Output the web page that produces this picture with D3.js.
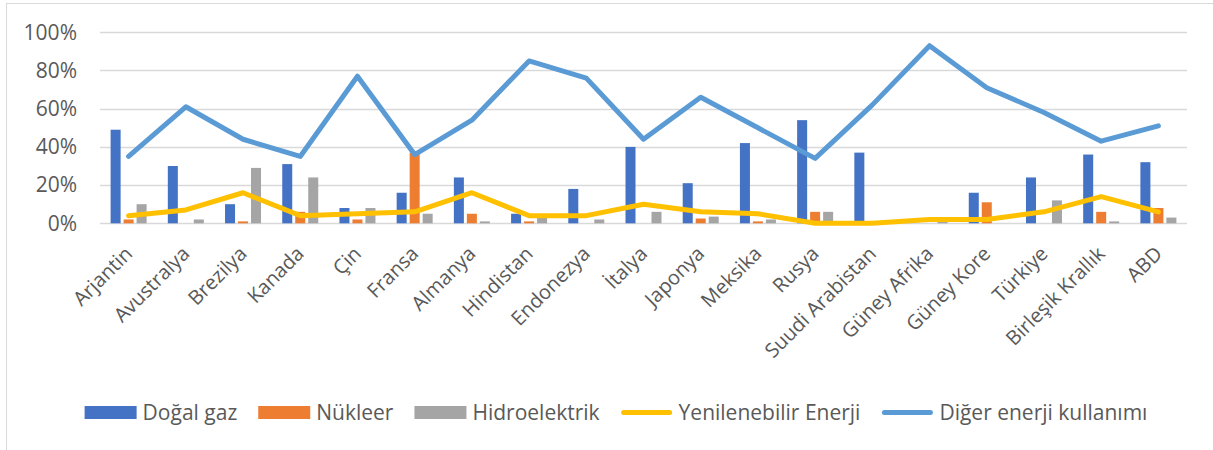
<!DOCTYPE html>
<html>
<head>
<meta charset="utf-8">
<script src="https://cdn.jsdelivr.net/npm/d3@7/dist/d3.min.js"></script>
<style>
  html, body { margin: 0; padding: 0; background: #fff; }
  svg { display: block; font-family: "Open Sans", sans-serif; }
</style>
</head>
<body>
<svg id="chart" width="1213" height="450"></svg>
<script>
const categories = ["Arjantin","Avustralya","Brezilya","Kanada","Çin","Fransa","Almanya","Hindistan","Endonezya","İtalya","Japonya","Meksika","Rusya","Suudi Arabistan","Güney Afrika","Güney Kore","Türkiye","Birleşik Krallık","ABD"];
const dogalGaz   = [49,30,10,31,8,16,24,5,18,40,21,42,54,37,0,16,24,36,32];
const nukleer    = [2,0,1,6,2,37,5,1,0,0,2.5,1,6,0,0,11,0,6,8];
const hidro      = [10,2,29,24,8,5,1,3,2,6,3.5,2,6,0,3,0,12,1,3];
const yenilenebilir = [4,7,16,4,5,6,16,4,4,10,6,5,0,0,2,2,6,14,6];
const diger      = [35,61,44,35,77,36,54,85,76,44,66,50,34,62,93,71,58,43,51];
const yTicks = [0,20,40,60,80,100];
const barSeries = [
  {name:"Doğal gaz", values:dogalGaz, color:"#4472C4"},
  {name:"Nükleer", values:nukleer, color:"#ED7D31"},
  {name:"Hidroelektrik", values:hidro, color:"#A5A5A5"}
];
const lineSeries = [
  {name:"Yenilenebilir Enerji", values:yenilenebilir, color:"#FFC000"},
  {name:"Diğer enerji kullanımı", values:diger, color:"#5B9BD5"}
];

const svg = d3.select("#chart");
const textColor = "#595959";
const gridColor = "#D9D9D9";

// chart border
svg.append("rect").attr("x",6.5).attr("y",3.5).attr("width",1212).attr("height",452)
  .attr("fill","#fff").attr("stroke",gridColor).attr("stroke-width",1);

const plot = {left:100, right:1187, top:32.3, bottom:223.3};
const x0 = d3.scaleBand().domain(categories).range([plot.left, plot.right]).padding(0);
const y = d3.scaleLinear().domain([0,100]).range([plot.bottom, plot.top]);
const groupW = 36;
const x1 = d3.scaleBand().domain(barSeries.map(s=>s.name))
  .range([x0.bandwidth()/2 - groupW/2, x0.bandwidth()/2 + groupW/2]).paddingInner(0.23);

// gridlines
svg.append("g").selectAll("line").data(yTicks).join("line")
  .attr("x1",plot.left).attr("x2",plot.right)
  .attr("y1",d=>Math.round(y(d))+0.5).attr("y2",d=>Math.round(y(d))+0.5)
  .attr("stroke",gridColor).attr("stroke-width",1.3);

// y axis labels
const yAxis = d3.axisLeft(y).tickValues(yTicks).tickFormat(d=>d+"%").tickSize(0).tickPadding(0);
const yg = svg.append("g").attr("transform",`translate(77,0)`).call(yAxis);
yg.select(".domain").remove();
yg.selectAll("text").attr("fill",textColor).style("font-size","21px").style("font-family","'Open Sans', sans-serif");

// bars
const gBars = svg.append("g");
barSeries.forEach(s=>{
  gBars.append("g").selectAll("rect").data(categories.map((c,i)=>({c, v:s.values[i]}))).join("rect")
    .attr("x",d=>x0(d.c)+x1(s.name))
    .attr("width",x1.bandwidth())
    .attr("y",d=>y(d.v))
    .attr("height",d=>plot.bottom - y(d.v))
    .attr("fill",s.color);
});

// lines
const line = d3.line().x((d,i)=>x0(categories[i])+x0.bandwidth()/2).y(d=>y(d));
lineSeries.forEach(s=>{
  svg.append("path").datum(s.values).attr("d",line)
    .attr("fill","none").attr("stroke",s.color).attr("stroke-width",5)
    .attr("stroke-linejoin","round").attr("stroke-linecap","round");
});

// x labels
const xg = svg.append("g");
categories.forEach(c=>{
  const cx = x0(c)+x0.bandwidth()/2;
  xg.append("text").text(c)
    .attr("transform",`translate(${cx+5},255) rotate(-45)`)
    .attr("text-anchor","end")
    .attr("fill",textColor).style("font-size","20px");
});

// legend
const legend = svg.append("g");
const items = [
  ...barSeries.map(s=>({name:s.name,color:s.color,type:"bar"})),
  ...lineSeries.map(s=>({name:s.name,color:s.color,type:"line"}))
];
const swW = 52, swGap = 6, itemGap = 21, legY = 412.5;
let positions = [];
let cur = 0;
items.forEach(it=>{
  const t = legend.append("text").text(it.name).style("font-size","21px").attr("fill",textColor);
  const w = t.node().getComputedTextLength();
  positions.push({it, t, x:cur, w});
  cur += swW + swGap + w + itemGap;
});
const total = cur - itemGap;
const startX = 616 - total/2;
positions.forEach(p=>{
  const sx = startX + p.x;
  if (p.it.type==="bar") {
    legend.append("rect").attr("x",sx).attr("y",legY-6.5).attr("width",swW).attr("height",13).attr("fill",p.it.color);
  } else {
    legend.append("line").attr("x1",sx+3).attr("x2",sx+swW-3).attr("y1",legY).attr("y2",legY)
      .attr("stroke",p.it.color).attr("stroke-width",5).attr("stroke-linecap","round");
  }
  p.t.attr("x",sx+swW+swGap).attr("y",legY+7.5);
});
</script>
</body>
</html>
